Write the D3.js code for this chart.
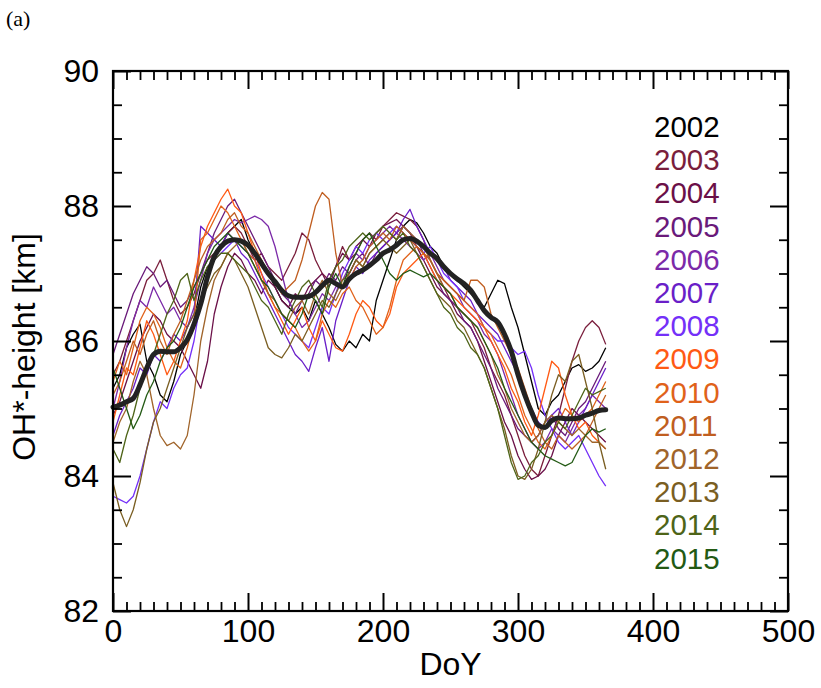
<!DOCTYPE html>
<html>
<head>
<meta charset="utf-8">
<script src="https://cdn.jsdelivr.net/npm/d3@7"></script>
<style>
  html, body { margin: 0; padding: 0; background: #fff; }
  svg { display: block; }
</style>
</head>
<body>
<svg id="chart" width="821" height="688"></svg>
<script>
// Day of year sampled every 5 days
const days = [0,5,10,15,20,25,30,35,40,45,50,55,60,65,70,75,80,85,90,95,100,105,110,115,120,125,130,135,140,145,150,155,160,165,170,175,180,185,190,195,200,205,210,215,220,225,230,235,240,245,250,255,260,265,270,275,280,285,290,295,300,305,310,315,320,325,330,335,340,345,350,355,360,365];

const years = ["2002","2003","2004","2005","2006","2007","2008","2009","2010","2011","2012","2013","2014","2015"];
const colors = ["#000000","#7a1e3c","#6b1048","#6a1a7a","#7b2aa8","#6a1fc8","#7430f8","#ff5a14","#e0621a","#c05e20","#a0642a","#7a5e22","#4e6418","#235a14"];

// OH* layer height per year [km]
const h2002 = [85.3,85.5,85.9,86.1,86.25,85.7,85.5,85.2,85.1,85.4,85.8,86.0,86.3,86.8,87.1,87.2,87.4,87.6,87.7,87.8,87.5,87.3,87.2,87.0,86.8,86.6,86.5,86.4,86.5,86.3,86.6,86.4,86.2,85.95,85.85,86.0,85.9,86.1,86.0,86.6,86.9,87.2,87.5,87.7,87.8,87.75,87.6,87.4,87.3,87.1,87.0,86.9,86.8,86.7,86.6,86.5,86.7,86.9,86.85,86.5,86.2,85.8,85.4,85.0,84.9,85.1,85.2,85.4,85.6,85.65,85.55,85.6,85.7,85.9];
const h2003 = [85.5,85.7,86.0,86.3,86.6,86.9,87.0,87.2,86.9,86.6,86.4,86.5,86.7,87.0,87.2,87.3,87.4,87.6,87.7,87.6,87.4,87.2,87.3,87.1,87.0,86.9,87.1,87.3,87.6,87.5,87.2,87.0,86.9,87.1,87.4,87.2,87.3,87.5,87.6,87.5,87.7,87.8,87.9,87.85,87.8,87.7,87.5,87.2,87.0,86.8,86.6,86.5,86.4,86.3,86.1,85.9,85.6,85.4,85.2,84.9,84.6,84.3,84.1,84.0,84.3,84.6,84.9,85.3,85.7,86.0,86.2,86.3,86.2,85.95];
const h2004 = [84.9,85.1,85.4,85.7,86.0,86.2,86.4,86.3,86.1,86.0,85.9,85.7,85.5,85.3,85.7,86.4,86.8,87.1,87.3,87.2,87.0,86.9,86.7,86.9,86.8,86.6,86.5,86.7,86.6,86.8,86.9,87.0,86.8,87.1,87.3,87.2,87.4,87.5,87.4,87.6,87.7,87.75,87.8,87.7,87.6,87.4,87.2,87.0,86.8,86.7,86.6,86.4,86.3,86.2,86.0,85.7,85.4,85.1,84.8,84.6,84.3,84.1,83.95,84.0,84.1,84.3,84.6,84.8,85.0,84.9,84.8,84.7,84.6,84.5];
const h2005 = [85.8,86.1,86.4,86.7,86.9,87.1,87.0,86.8,86.9,86.7,86.5,86.6,86.8,87.0,87.3,87.6,87.8,88.0,88.1,87.9,87.7,87.5,87.3,87.1,86.9,86.7,86.6,86.4,86.6,86.7,86.9,86.8,87.0,86.9,87.1,87.0,87.2,87.3,87.1,87.3,87.4,87.5,87.6,87.7,87.6,87.5,87.3,87.1,86.9,86.7,86.6,86.5,86.3,86.2,86.0,85.8,85.6,85.3,85.1,84.9,84.7,84.6,84.5,84.6,84.8,84.9,84.7,84.6,84.8,85.0,85.1,85.3,85.5,85.7];
const h2006 = [85.0,85.4,85.9,86.3,86.6,86.5,86.8,86.6,86.4,86.5,86.3,86.2,86.5,86.9,87.3,87.5,87.6,87.7,87.8,87.75,87.8,87.85,87.8,87.7,87.4,87.0,86.6,86.4,86.2,86.3,86.5,86.7,86.6,86.8,86.9,87.1,87.3,87.2,87.4,87.5,87.6,87.7,87.6,87.5,87.4,87.3,87.2,87.3,87.1,86.9,86.8,86.7,86.5,86.4,86.3,86.1,86.0,85.8,85.5,85.2,84.9,84.7,84.5,84.4,84.5,84.7,84.6,84.5,84.7,84.9,85.0,85.2,85.1,85.0];
const h2007 = [84.6,84.9,85.1,85.3,85.6,85.5,85.8,85.7,85.9,86.1,86.0,86.2,86.4,87.7,87.6,87.5,87.4,87.6,87.5,87.3,87.2,87.0,86.8,86.6,86.4,86.2,86.0,85.8,85.7,85.55,85.9,86.2,85.7,86.3,86.6,86.9,87.1,87.0,87.2,87.3,87.4,87.5,87.6,87.8,87.95,87.7,87.5,87.3,87.2,87.1,86.9,86.8,86.7,86.6,86.4,86.3,86.2,86.1,85.9,85.7,85.5,85.2,85.0,84.8,84.7,84.9,85.0,84.8,84.6,84.8,85.0,85.2,85.4,85.6];
const h2008 = [83.7,83.65,83.6,83.7,84.0,84.4,84.8,85.1,85.0,85.3,85.5,85.6,86.0,86.6,87.0,87.2,87.3,87.4,87.5,87.4,87.3,87.2,87.0,86.8,86.6,86.4,86.2,86.1,86.0,85.9,86.2,86.5,86.4,86.7,87.0,87.2,87.4,87.3,87.5,87.6,87.5,87.6,87.7,87.6,87.5,87.4,87.3,87.4,87.2,87.0,86.9,86.8,86.6,86.5,86.4,86.2,86.1,86.0,86.0,85.9,85.8,85.85,85.6,85.2,84.9,84.7,84.5,84.4,84.5,84.6,84.4,84.2,84.0,83.85];
const h2009 = [84.8,85.2,85.6,85.5,85.9,86.3,86.1,85.8,85.5,85.7,86.0,86.3,86.9,87.4,87.7,87.9,88.1,88.25,88.0,87.9,87.6,87.3,87.0,86.7,86.5,86.3,86.1,86.3,86.5,86.2,86.0,86.3,86.1,85.9,85.85,86.1,86.4,86.6,86.5,86.3,86.2,86.4,86.8,87.0,87.1,87.2,87.3,87.1,86.9,86.8,86.7,86.6,86.5,86.4,86.3,86.2,86.0,85.8,85.6,85.3,85.1,84.8,84.6,84.9,85.3,85.7,85.6,85.2,84.9,84.7,84.8,84.6,84.5,84.4];
const h2010 = [85.4,85.7,85.5,85.9,86.3,86.5,86.4,86.2,85.9,85.7,85.6,85.9,86.3,87.5,87.6,87.8,88.0,87.9,87.7,87.5,87.3,87.2,86.9,86.7,86.5,86.4,86.3,86.2,86.0,85.85,86.0,86.4,86.6,86.5,86.7,86.8,86.6,86.5,86.3,86.1,86.2,86.5,86.9,87.2,87.3,87.4,87.3,87.2,87.0,86.9,86.8,86.7,86.6,86.5,86.4,86.2,86.1,85.9,85.7,85.5,85.2,84.9,84.7,84.5,84.4,84.6,84.8,85.0,84.9,84.8,84.9,85.0,85.2,85.4];
const h2011 = [85.2,85.4,85.7,86.0,85.8,86.1,86.3,86.0,85.8,86.1,86.3,86.6,86.9,87.2,87.4,87.5,87.6,87.8,87.9,87.7,87.6,87.4,87.2,87.0,86.9,86.7,86.8,86.9,87.2,87.6,88.0,88.2,88.1,87.3,86.8,86.9,87.1,87.2,87.4,87.5,87.6,87.5,87.7,87.6,87.5,87.4,87.3,87.2,87.0,86.9,86.8,86.7,86.6,86.9,86.9,86.8,86.4,86.2,86.0,85.8,85.6,85.3,85.0,84.7,84.5,84.4,84.6,84.5,84.4,84.5,84.6,84.8,85.0,85.2];
const h2012 = [84.5,84.8,85.0,85.4,85.7,85.5,85.0,84.6,84.45,84.5,84.4,84.6,85.2,86.0,86.5,86.9,87.1,87.3,87.4,87.5,87.3,87.1,86.9,86.7,86.6,86.4,86.3,86.5,86.6,86.4,86.7,86.9,86.7,86.6,86.8,87.0,87.2,87.1,87.3,87.4,87.5,87.6,87.5,87.7,87.6,87.5,87.4,87.2,87.0,86.8,86.7,86.5,86.4,86.3,86.2,86.0,85.8,85.5,85.3,85.0,84.8,84.6,84.5,84.6,84.8,84.9,84.8,84.7,84.6,84.7,84.6,84.5,84.5,84.4];
const h2013 = [83.9,83.5,83.25,83.5,83.9,84.4,84.8,85.0,85.3,85.6,85.9,86.2,86.4,86.6,86.8,87.0,87.1,87.3,87.2,87.0,86.8,86.5,86.2,85.9,85.8,85.75,85.9,86.1,86.0,86.2,86.4,86.6,86.5,86.7,86.9,87.0,87.2,87.1,87.3,87.4,87.5,87.4,87.3,87.4,87.5,87.3,87.1,86.9,86.7,86.6,86.5,86.3,86.2,86.0,85.8,85.6,85.3,85.0,84.7,84.3,84.0,83.95,84.1,84.4,84.8,85.2,85.5,85.4,85.7,85.8,85.4,85.0,84.5,84.1];
const h2014 = [84.4,84.2,84.6,84.9,85.3,85.6,85.8,86.1,86.4,86.6,86.9,87.0,86.6,86.9,87.1,87.2,87.3,87.3,87.2,87.1,87.0,86.8,86.6,86.5,86.3,86.1,86.4,86.6,86.8,86.9,86.7,86.5,86.9,87.1,87.2,87.4,87.5,87.6,87.5,87.6,87.7,87.6,87.5,87.6,87.4,87.3,87.1,86.9,86.7,86.5,86.4,86.2,86.1,85.9,85.8,85.6,85.3,85.0,84.6,84.2,83.95,84.0,84.2,84.3,84.5,84.6,84.8,84.7,84.9,85.1,85.3,85.2,85.25,85.3];
const h2015 = [85.6,85.3,85.0,84.7,84.9,85.2,85.4,85.7,85.9,86.0,86.2,86.5,86.8,87.0,87.2,87.4,87.5,87.6,87.5,87.4,87.3,87.1,86.9,86.8,86.6,86.4,86.3,86.2,86.4,86.7,86.6,86.4,86.8,87.0,86.8,87.1,87.3,87.5,87.6,87.4,87.2,87.0,86.9,87.0,87.05,87.0,86.95,87.0,86.9,86.8,86.7,86.5,86.4,86.3,86.2,86.0,85.8,85.6,85.3,85.1,84.9,84.7,84.5,84.4,84.3,84.25,84.2,84.15,84.2,84.4,84.6,84.7,84.65,84.7];

// Multi-year mean
const hMean = [85.02,85.05,85.1,85.15,85.35,85.6,85.8,85.85,85.84,85.84,85.9,86.02,86.25,86.55,86.95,87.25,87.4,87.48,87.5,87.48,87.42,87.3,87.15,87.0,86.88,86.75,86.67,86.65,86.65,86.66,86.72,86.82,86.9,86.85,86.8,86.92,87.0,87.05,87.12,87.2,87.3,87.35,87.42,87.5,87.52,87.48,87.4,87.3,87.22,87.1,87.0,86.92,86.85,86.75,86.6,86.45,86.35,86.28,86.1,85.85,85.5,85.2,84.95,84.75,84.72,84.82,84.86,84.85,84.85,84.86,84.9,84.93,84.97,84.98];

const series = [h2002,h2003,h2004,h2005,h2006,h2007,h2008,h2009,h2010,h2011,h2012,h2013,h2014,h2015];

const xMajor = [0,100,200,300,400,500];
const yMajor = [82,84,86,88,90];
const xMinor = [10,20,30,40,50,60,70,80,90,110,120,130,140,150,160,170,180,190,210,220,230,240,250,260,270,280,290,310,320,330,340,350,360,370,380,390,410,420,430,440,450,460,470,480,490];
const yMinor = [82.5,83,83.5,84.5,85,85.5,86.5,87,87.5,88.5,89,89.5];

const FONT = "'Liberation Sans', Arial, sans-serif";
const svg = d3.select("#chart");
const L = 113, R = 788, T = 71, B = 611;

const x = d3.scaleLinear().domain([0, 500]).range([L, R]);
const y = d3.scaleLinear().domain([82, 90]).range([B, T]);

// Panel tag
svg.append("text").attr("x", 6).attr("y", 26)
  .attr("font-family", "'Liberation Serif', 'Times New Roman', serif")
  .attr("font-size", 22).attr("fill", "#000").text("(a)");

// Yearly curves
const line = d3.line().x((d, i) => x(days[i])).y(d => y(d));
series.forEach((s, k) => {
  svg.append("path").datum(s)
    .attr("fill", "none").attr("stroke", colors[k])
    .attr("stroke-width", 1.3).attr("stroke-linejoin", "round")
    .attr("d", line);
});

// Mean curve
svg.append("path").datum(hMean)
  .attr("fill", "none").attr("stroke", "#222")
  .attr("stroke-width", 5).attr("stroke-linejoin", "round").attr("stroke-linecap", "round")
  .attr("d", line.curve(d3.curveMonotoneX));

// Axes with inward ticks on all four sides
function styleAxis(g, width) {
  g.select(".domain").remove();
  g.selectAll(".tick line").attr("stroke", "#000").attr("stroke-width", width);
  g.selectAll(".tick text").attr("font-family", FONT).attr("font-size", 32).attr("fill", "#000");
}
const MAJ = 18, MIN = 9;

svg.append("g").attr("transform", `translate(0,${B})`)
  .call(d3.axisBottom(x).tickValues(xMajor).tickFormat(d3.format("d")).tickSize(-MAJ).tickPadding(8))
  .call(g => styleAxis(g, 2));
svg.append("g").attr("transform", `translate(0,${B})`)
  .call(d3.axisBottom(x).tickValues(xMinor).tickFormat("").tickSize(-MIN))
  .call(g => styleAxis(g, 1.8));
svg.append("g").attr("transform", `translate(0,${T})`)
  .call(d3.axisTop(x).tickValues(xMajor).tickFormat("").tickSize(-MAJ))
  .call(g => styleAxis(g, 2));
svg.append("g").attr("transform", `translate(0,${T})`)
  .call(d3.axisTop(x).tickValues(xMinor).tickFormat("").tickSize(-MIN))
  .call(g => styleAxis(g, 1.8));

svg.append("g").attr("transform", `translate(${L},0)`)
  .call(d3.axisLeft(y).tickValues(yMajor).tickFormat(d3.format("d")).tickSize(-MAJ).tickPadding(14))
  .call(g => styleAxis(g, 2));
svg.append("g").attr("transform", `translate(${L},0)`)
  .call(d3.axisLeft(y).tickValues(yMinor).tickFormat("").tickSize(-MIN))
  .call(g => styleAxis(g, 1.8));
svg.append("g").attr("transform", `translate(${R},0)`)
  .call(d3.axisRight(y).tickValues(yMajor).tickFormat("").tickSize(-MAJ))
  .call(g => styleAxis(g, 2));
svg.append("g").attr("transform", `translate(${R},0)`)
  .call(d3.axisRight(y).tickValues(yMinor).tickFormat("").tickSize(-MIN))
  .call(g => styleAxis(g, 1.8));

// Frame
svg.append("rect").attr("x", L).attr("y", T).attr("width", R - L).attr("height", B - T)
  .attr("fill", "none").attr("stroke", "#000").attr("stroke-width", 2.2);

// Axis titles
svg.append("text").attr("x", (L + R) / 2).attr("y", 675)
  .attr("text-anchor", "middle").attr("font-family", FONT).attr("font-size", 32)
  .attr("fill", "#000").text("DoY");
svg.append("text").attr("transform", `translate(35,${(T + B) / 2 + 6}) rotate(-90)`)
  .attr("text-anchor", "middle").attr("font-family", FONT).attr("font-size", 32)
  .attr("fill", "#000").text("OH*-height [km]");

// Year legend
svg.append("g").selectAll("text").data(years).join("text")
  .attr("x", 654).attr("y", (d, i) => 137 + i * 33.2)
  .attr("font-family", FONT).attr("font-size", 29.5)
  .attr("fill", (d, i) => colors[i]).text(d => d);
</script>
</body>
</html>
